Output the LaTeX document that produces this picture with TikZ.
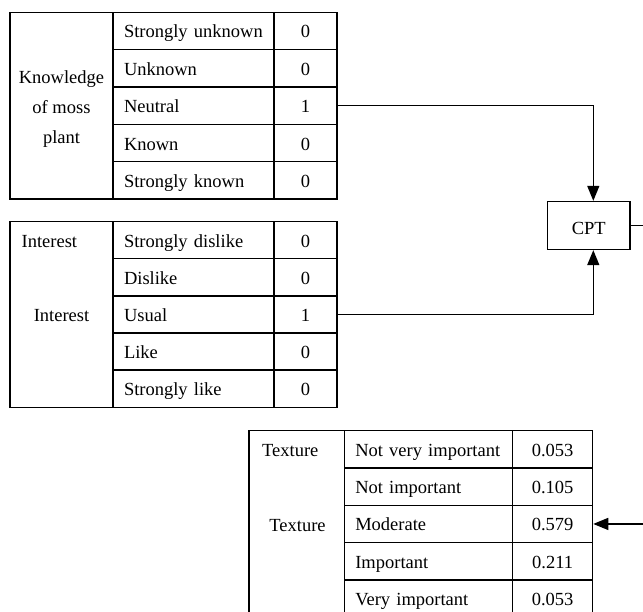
\documentclass[tikz,border=0pt]{standalone}
\usepackage{fontspec}
\setmainfont{Liberation Serif}
\usetikzlibrary{arrows.meta}
\tikzset{
  cellbox/.style={draw, inner sep=0pt, anchor=center, text height=14pt, text depth=0pt},
  labcell/.style={cellbox, inner xsep=11pt, align=left},
  plaintext/.style={inner sep=0pt},
  arr/.style={-{Triangle[length=15pt,width=12pt]}},
}
\begin{document}
\begin{tikzpicture}[x=1pt,y=-1pt, font=\fontsize{18.5}{22}\selectfont, line width=1.3pt]
\useasboundingbox (0,0) rectangle (643,612);
% Table 1
\node[draw, inner sep=0pt, minimum width=103pt, minimum height=186.75pt] (k0) at (61.5,105.7) {};
\node[plaintext, anchor=base] (k0a) at (61.5,84) {Knowledge};
\node[plaintext, anchor=base] (k0b) at (61.5,114) {of moss};
\node[plaintext, anchor=base] (k0c) at (61.5,144) {plant};
\foreach \i/\t/\v in {1/Strongly unknown/0, 2/Unknown/0, 3/Neutral/1, 4/Known/0, 5/Strongly known/0}{
  \node[labcell, text width=139pt, minimum height=37.35pt] (kl\i) at (193.5,{12.3+(\i-0.5)*37.35}) {\t};
  \node[cellbox, minimum width=63pt, minimum height=37.35pt] (k\i) at (305.5,{12.3+(\i-0.5)*37.35}) {\v};
}
% Table 2
\node[draw, inner sep=0pt, minimum width=103pt, minimum height=185.5pt] (i0) at (61.5,314.45) {};
\node[plaintext, anchor=base west] (i0a) at (21,247.5) {Interest};
\node[plaintext, anchor=base] (i0b) at (61.5,321.5) {Interest};
\foreach \i/\t/\v in {1/Strongly dislike/0, 2/Dislike/0, 3/Usual/1, 4/Like/0, 5/Strongly like/0}{
  \node[labcell, text width=139pt, minimum height=37.1pt] (il\i) at (193.5,{221.7+(\i-0.5)*37.1}) {\t};
  \node[cellbox, minimum width=63pt, minimum height=37.1pt] (i\i) at (305.5,{221.7+(\i-0.5)*37.1}) {\v};
}
% Table 3
\node[draw, inner sep=0pt, minimum width=95.3pt, minimum height=186.5pt] (t0) at (296.65,523.95) {};
\node[plaintext, anchor=base west] (t0a) at (261.5,456.5) {Texture};
\node[plaintext, anchor=base] (t0b) at (297.5,531) {Texture};
\foreach \i/\t/\v in {1/Not very important/0.053, 2/Not important/0.105, 3/Moderate/0.579, 4/Important/0.211, 5/Very important/0.053}{
  \node[labcell, text width=146.4pt, minimum height=37.3pt] (tl\i) at (428.5,{430.7+(\i-0.5)*37.3}) {\t};
  \node[cellbox, minimum width=80pt, minimum height=37.3pt] (t\i) at (552.6,{430.7+(\i-0.5)*37.3}) {\v};
}
% CPT
\node[cellbox, text height=18pt, minimum width=82.3pt, minimum height=48pt] (cpt) at (588.8,225.5) {CPT};
\coordinate (r1) at (643,226.7);
\coordinate (r2) at (643,524.7);
% connectors
\draw[arr] (k3.east) -| ([xshift=4.5pt]cpt.north);
\draw[arr] (i3.east) -| ([xshift=4.5pt]cpt.south);
\draw (cpt.east) -- (cpt.east -| r1);
\draw[arr] (t3.east -| r2) -- (t3.east);
\end{tikzpicture}
\end{document}
